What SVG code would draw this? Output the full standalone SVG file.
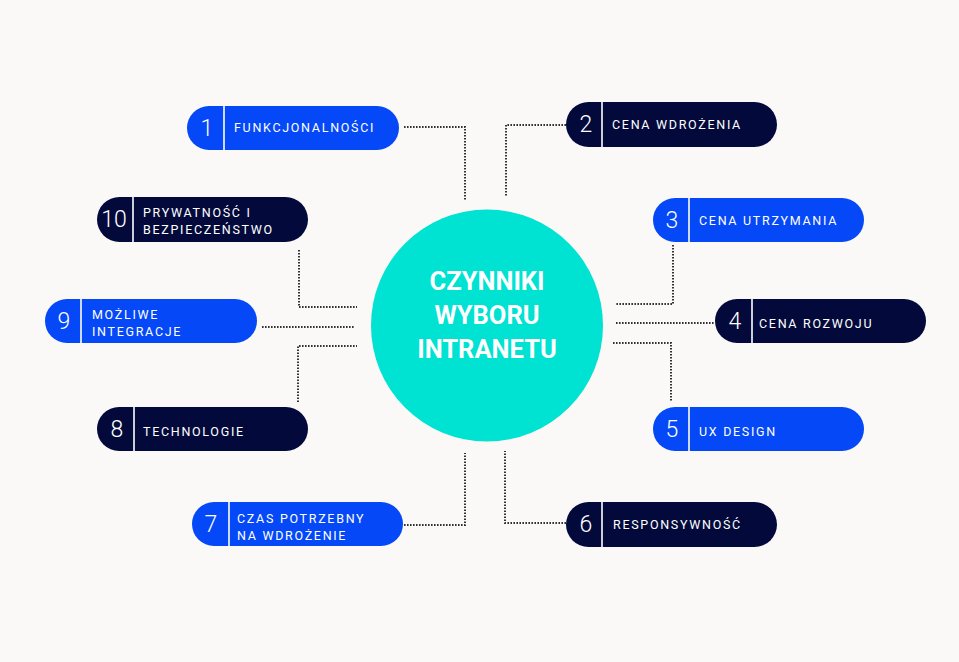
<svg xmlns="http://www.w3.org/2000/svg" width="959" height="662" viewBox="0 0 959 662">
<style>
.bg{fill:#faf9f8}
.blue{fill:#0448f7}
.navy{fill:#030a3b}
.div{stroke:#ffffff;stroke-width:1.6}
.num{font-family:Roboto,"Liberation Sans",sans-serif;font-size:23px;font-weight:300;fill:#ffffff;text-anchor:middle}
.lbl{font-family:Roboto,"Liberation Sans",sans-serif;font-size:12.5px;font-weight:400;fill:#ffffff;letter-spacing:1.7px}
.title{font-family:Roboto,"Liberation Sans",sans-serif;font-size:25.5px;font-weight:700;fill:#ffffff;text-anchor:middle}
.con{fill:none;stroke:#333333;stroke-width:2;stroke-dasharray:1.6 1.4}
</style>
<rect class="bg" x="0" y="0" width="959" height="662"/>
<g id="connectors">
<polyline class="con" points="404,127 465,127 465,200"/>
<polyline class="con" points="566,125 506,125 506,197"/>
<polyline class="con" points="673,245 673,304 615,304"/>
<polyline class="con" points="616,323 715,323"/>
<polyline class="con" points="613,343 671,343 671,402"/>
<polyline class="con" points="566,523 505,523 505,451"/>
<polyline class="con" points="404,525 465,525 465,453"/>
<polyline class="con" points="298,402 298,346 357,346"/>
<polyline class="con" points="262,327 355,327"/>
<polyline class="con" points="299,250 299,307 357,307"/>
</g>
<g id="center">
<circle cx="487" cy="325.5" r="116" fill="#00e2d2"/>
<text class="title" x="487" y="290">CZYNNIKI</text>
<text class="title" x="487" y="324">WYBORU</text>
<text class="title" x="487" y="358">INTRANETU</text>
</g>
<g id="node1">
<rect class="blue" x="187" y="106" width="212" height="44" rx="22"/>
<line class="div" x1="224" y1="106" x2="224" y2="150"/>
<text class="num" x="207" y="136">1</text>
<text class="lbl" x="234" y="132">FUNKCJONALNOŚCI</text>
</g>
<g id="node2">
<rect class="navy" x="566" y="102" width="211" height="45" rx="22.5"/>
<line class="div" x1="602" y1="102" x2="602" y2="147"/>
<text class="num" x="586" y="132">2</text>
<text class="lbl" x="612" y="129">CENA WDROŻENIA</text>
</g>
<g id="node3">
<rect class="blue" x="653" y="198" width="211" height="44" rx="22"/>
<line class="div" x1="689" y1="198" x2="689" y2="242"/>
<text class="num" x="672" y="228">3</text>
<text class="lbl" x="699" y="225">CENA UTRZYMANIA</text>
</g>
<g id="node4">
<rect class="navy" x="715" y="299" width="211" height="44" rx="22"/>
<line class="div" x1="752" y1="299" x2="752" y2="343"/>
<text class="num" x="735" y="329">4</text>
<text class="lbl" x="759" y="328">CENA ROZWOJU</text>
</g>
<g id="node5">
<rect class="blue" x="653" y="407" width="211" height="44" rx="22"/>
<line class="div" x1="689" y1="407" x2="689" y2="451"/>
<text class="num" x="672" y="437">5</text>
<text class="lbl" x="699" y="436">UX DESIGN</text>
</g>
<g id="node6">
<rect class="navy" x="566" y="502" width="211" height="45" rx="22.5"/>
<line class="div" x1="602" y1="502" x2="602" y2="547"/>
<text class="num" x="586" y="532">6</text>
<text class="lbl" x="613" y="529">RESPONSYWNOŚĆ</text>
</g>
<g id="node7">
<rect class="blue" x="192" y="502" width="211" height="44" rx="22"/>
<line class="div" x1="229" y1="502" x2="229" y2="546"/>
<text class="num" x="211" y="532">7</text>
<text class="lbl" x="237" y="523">CZAS POTRZEBNY</text>
<text class="lbl" x="237" y="540">NA WDROŻENIE</text>
</g>
<g id="node8">
<rect class="navy" x="97" y="407" width="211" height="44" rx="22"/>
<line class="div" x1="134" y1="407" x2="134" y2="451"/>
<text class="num" x="117" y="437">8</text>
<text class="lbl" x="143" y="436">TECHNOLOGIE</text>
</g>
<g id="node9">
<rect class="blue" x="45" y="299" width="212" height="44" rx="22"/>
<line class="div" x1="81" y1="299" x2="81" y2="343"/>
<text class="num" x="64" y="329">9</text>
<text class="lbl" x="92" y="319">MOŻLIWE</text>
<text class="lbl" x="92" y="336">INTEGRACJE</text>
</g>
<g id="node10">
<rect class="navy" x="97" y="197" width="211" height="45" rx="22.5"/>
<line class="div" x1="133" y1="197" x2="133" y2="242"/>
<text class="num" x="114" y="227">10</text>
<text class="lbl" x="143" y="217">PRYWATNOŚĆ I</text>
<text class="lbl" x="143" y="234">BEZPIECZEŃSTWO</text>
</g>
</svg>
